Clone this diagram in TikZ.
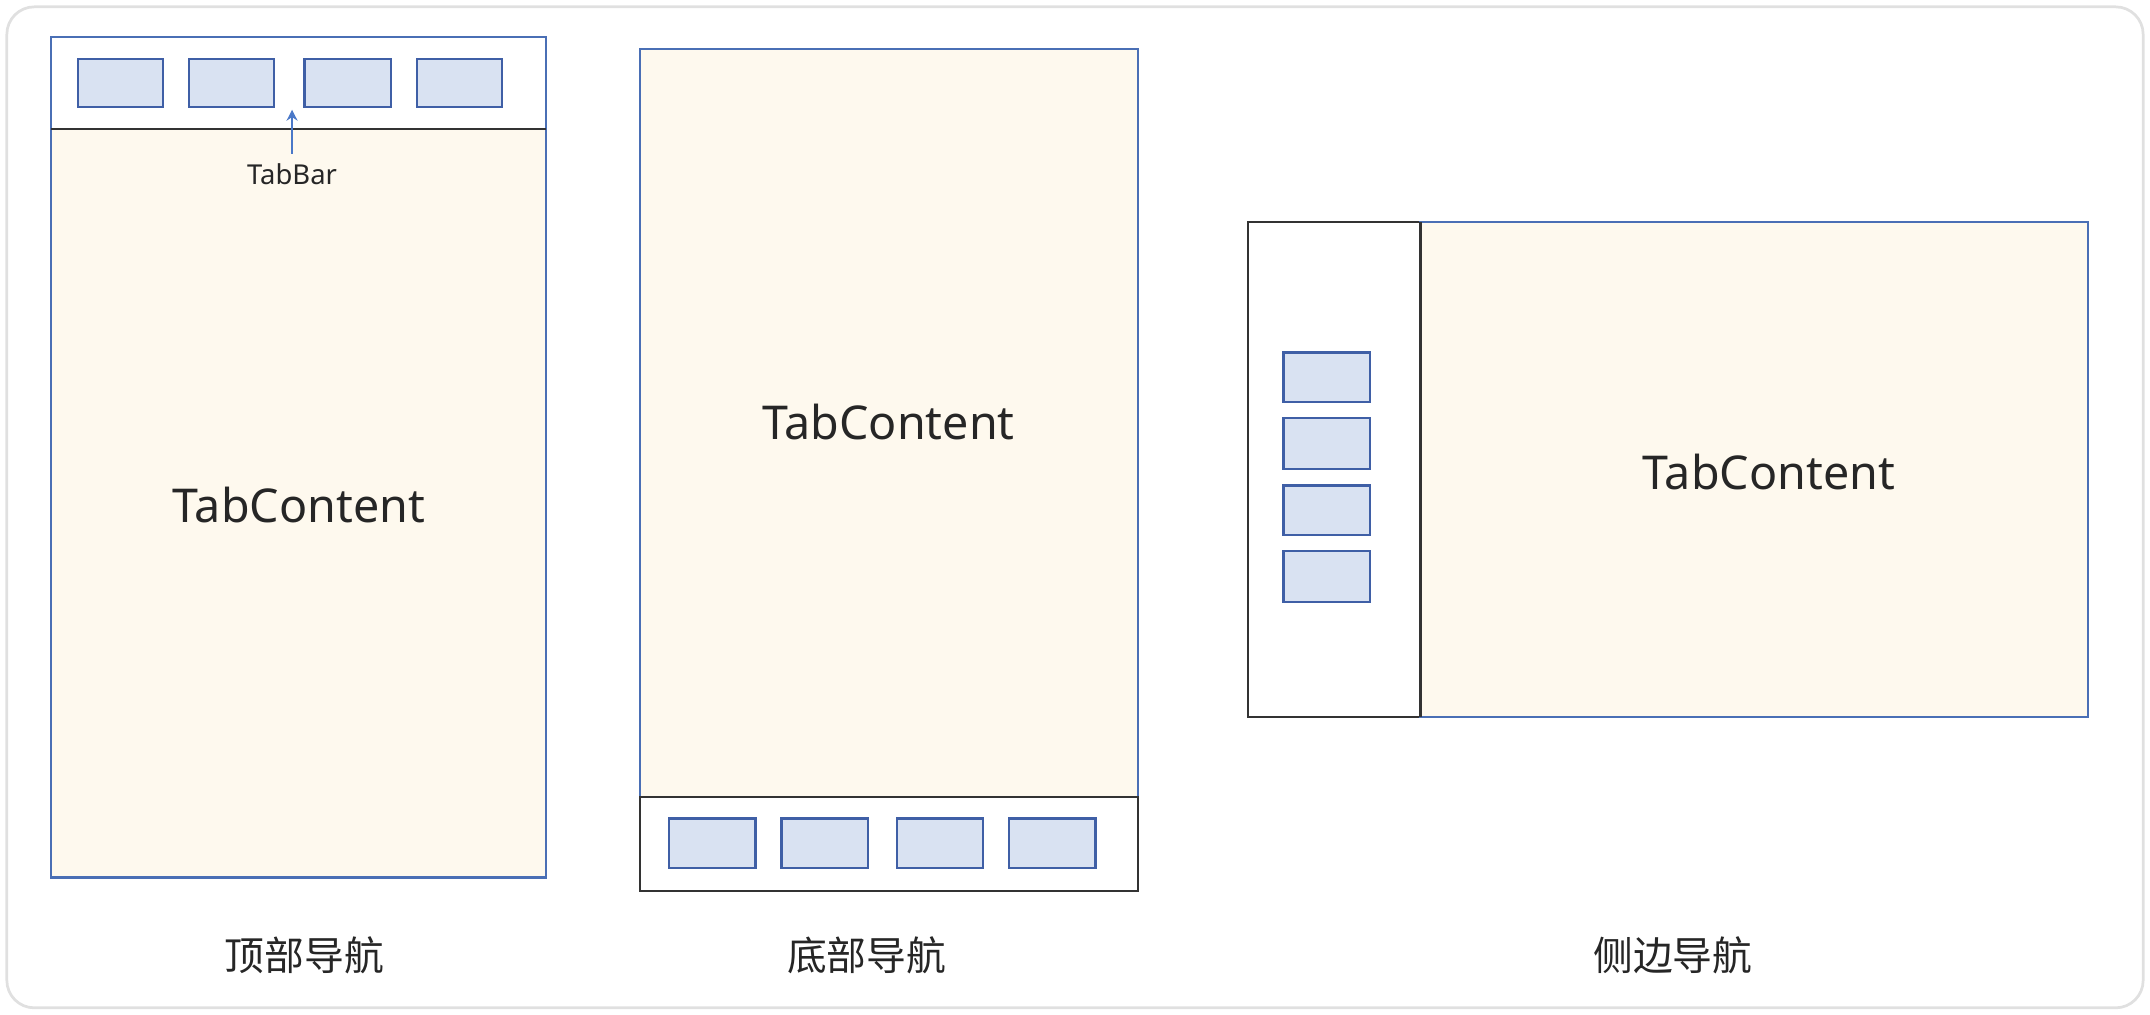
\documentclass[tikz,border=0pt]{standalone}
\usetikzlibrary{arrows.meta}
\usepackage{fontspec}
\setmainfont{Noto Sans}
\newfontfamily\cjk{Noto Sans CJK SC}
\definecolor{bluebd}{HTML}{4A6FB5}
\definecolor{tabfill}{HTML}{D9E2F2}
\definecolor{tabbd}{HTML}{3F5FA6}
\definecolor{cream}{HTML}{FEF9EE}
\definecolor{darkbd}{HTML}{333333}
\definecolor{arrowc}{HTML}{4A78C8}
\begin{document}
\begin{tikzpicture}[x=0.5pt,y=-0.5pt,
  tabbox/.style={draw=tabbd,fill=tabfill,line width=0.9pt},
  content/.style={draw=bluebd,fill=cream,line width=0.8pt},
  bar/.style={draw=darkbd,fill=white,line width=0.8pt},
  ctext/.style={font=\fontsize{17}{20}\selectfont,text=black!85},
  captext/.style={font=\cjk\fontsize{14.5}{17}\selectfont,text=black!85}]
\useasboundingbox (0,0) rectangle (1568,740);
\draw[black!12,line width=1pt,rounded corners=10pt] (5,5) rectangle (1563,735);
% panel 1
\draw[content] (37,94) rectangle (398,640);
\draw[draw=bluebd,fill=white,line width=0.8pt] (37,27) rectangle (398,94);
\draw[darkbd,line width=0.9pt] (37,94) -- (398,94);
\foreach \a/\b/\n in {57/119/1,138/200/2,222/285/3,304/366/4}
  \node[tabbox,inner sep=0,minimum width={(\b-\a)*0.5pt},minimum height=17.5pt] (ta\n) at ({(\a+\b)/2},60.5) {};
\node[font=\fontsize{10}{12}\selectfont,text=black!85] (tabbar) at (213,127) {TabBar};
\coordinate (tip) at (213,80);
\draw[arrowc,line width=1pt,-{Stealth[length=4pt,width=4pt]}] (tabbar.north) -- (tip);
\node[ctext] (c1) at (218,368) {TabContent};
\node[captext] (l1) at (222,697) {顶部导航};
% panel 2
\draw[content] (467,36) rectangle (830,581);
\draw[bar] (467,581) rectangle (830,650);
\foreach \a/\b/\n in {488/551/1,570/633/2,654/717/3,736/799/4}
  \node[tabbox,inner sep=0,minimum width={(\b-\a)*0.5pt},minimum height=18pt] (tb\n) at ({(\a+\b)/2},615) {};
\node[ctext] (c2) at (648,308) {TabContent};
\node[captext] (l2) at (632,697) {底部导航};
% panel 3
\draw[bar] (910,162) rectangle (1036,523);
\draw[content] (1036,162) rectangle (1523,523);
\draw[darkbd,line width=0.8pt] (1036,162) -- (1036,523);
\foreach \a/\b/\n in {257/293/1,305/342/2,354/390/3,402/439/4}
  \node[tabbox,inner sep=0,minimum width=31.5pt,minimum height={(\b-\a)*0.5pt}] (tc\n) at (967.5,{(\a+\b)/2}) {};
\node[ctext] (c3) at (1290,344) {TabContent};
\node[captext] (l3) at (1220,697) {侧边导航};
\end{tikzpicture}
\end{document}
